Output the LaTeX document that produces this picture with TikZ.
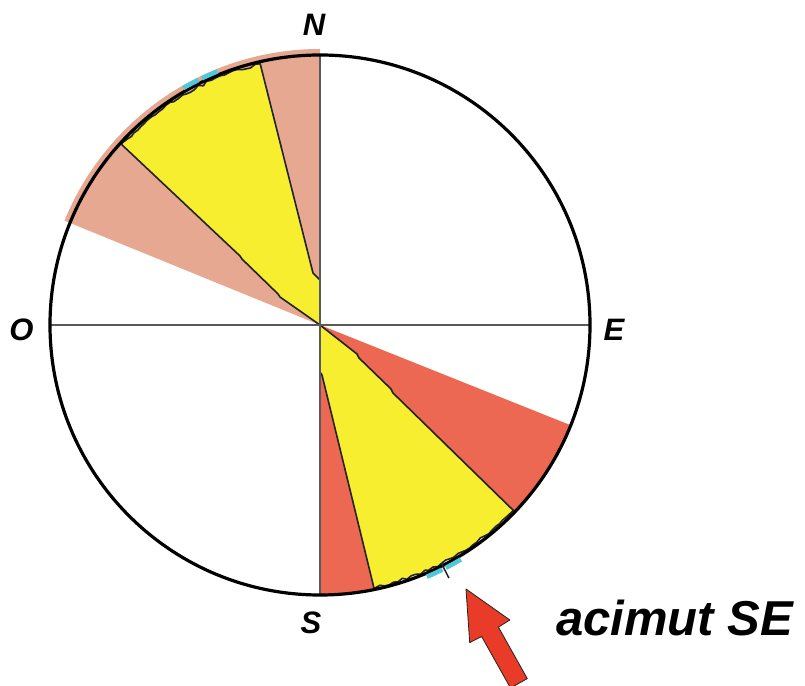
\documentclass[tikz,border=0pt]{standalone}
\usepackage{fontspec}
\setmainfont{Liberation Sans}
\definecolor{salmon}{HTML}{E6A891}
\definecolor{coral}{HTML}{ED6852}
\definecolor{yel}{HTML}{F7EE30}
\definecolor{edgedark}{HTML}{222222}
\definecolor{axisgray}{HTML}{5A5A5A}
\definecolor{cyanmark}{HTML}{50C8DC}
\definecolor{arrowred}{HTML}{E83C28}
\tikzset{
  yellowsector/.style={fill=yel, draw=edgedark, line width=1.6pt, line join=round},
  axisline/.style={draw=axisgray, line width=1.4pt},
  rim/.style={draw=black, line width=3.2pt},
  cyanpiece/.style={draw=cyanmark, line width=4.5pt},
  compass/.style={inner sep=0pt, font=\fontsize{31}{31}\selectfont\bfseries\itshape},
  caption/.style={inner sep=0pt, font=\fontsize{49}{49}\selectfont\bfseries\itshape}
}
\begin{document}
\begin{tikzpicture}[x=1pt,y=1pt]
\useasboundingbox (0,0) rectangle (805,685);
\clip (0,0) rectangle (805,685);
\fill[white] (0,0) rectangle (805,685);
\pgfmathsetseed{12}
\begin{scope}[shift={(320,360)}]
  % background sectors
  \fill[salmon] (0,0) -- (157.8:276) arc[start angle=157.8, end angle=90, radius=276] -- cycle;
  \fill[coral] (0,0) -- (-21.8:270) arc[start angle=-21.8, end angle=-43.8, radius=270] -- cycle;
  \fill[coral] (0,0) -- (-78.4:270) arc[start angle=-78.4, end angle=-90, radius=270] -- cycle;
  % yellow NW
  \path[yellowsector] (0,0) -- (0,45) -- (-7,52) -- (102.9:268)
     \foreach \a in {104,105,...,137} { -- (\a:{266+3*rnd}) }
     -- (137.7:269) -- (-80,69) -- (-78,66) -- (-42,31) -- (-40,28) -- cycle;
  % yellow SE
  \path[yellowsector] (0,0) -- (37,-29) -- (39,-33) -- (71,-64) -- (73,-68) -- (-43.8:268)
     \foreach \a in {-45,-46,...,-77} { -- (\a:{266+3*rnd}) }
     -- (-78.4:269) -- (2,-50) -- (0,-47) -- cycle;
  % axes
  \draw[axisline] (-270,0) -- (270,0);
  \draw[axisline] (0,270) -- (0,-270);
  % rim
  \draw[rim] (0,0) circle[radius=270];
  % cyan marks
  \draw[cyanpiece] (112:273.5) arc[start angle=112, end angle=115.6, radius=273.5];
  \draw[cyanpiece] (116.4:273.5) arc[start angle=116.4, end angle=120, radius=273.5];
  \draw[cyanpiece] (-59:273.5) arc[start angle=-59, end angle=-62.6, radius=273.5];
  \draw[cyanpiece] (-63.4:273.5) arc[start angle=-63.4, end angle=-67, radius=273.5];
  \draw[edgedark, line width=1.5pt] (-63:268) -- (-63:284);
\end{scope}
% labels
\node[compass] (N) at (314,660) {N};
\node[compass] (S) at (311,62) {S};
\node[compass] (O) at (21.5,355) {O};
\node[compass] (E) at (614,355) {E};
% arrow
\filldraw[fill=arrowred, draw=edgedark, line width=0.8pt, line join=round]
  (466,96) -- (509.9,65) -- (498.4,57.9) -- (527.3,6.4) -- (510.5,-3) -- (481.6,48.5) -- (469.7,42.4) -- cycle;
\node[caption, anchor=base west] (az) at (556,50) {acimut SE};
\end{tikzpicture}
\end{document}
